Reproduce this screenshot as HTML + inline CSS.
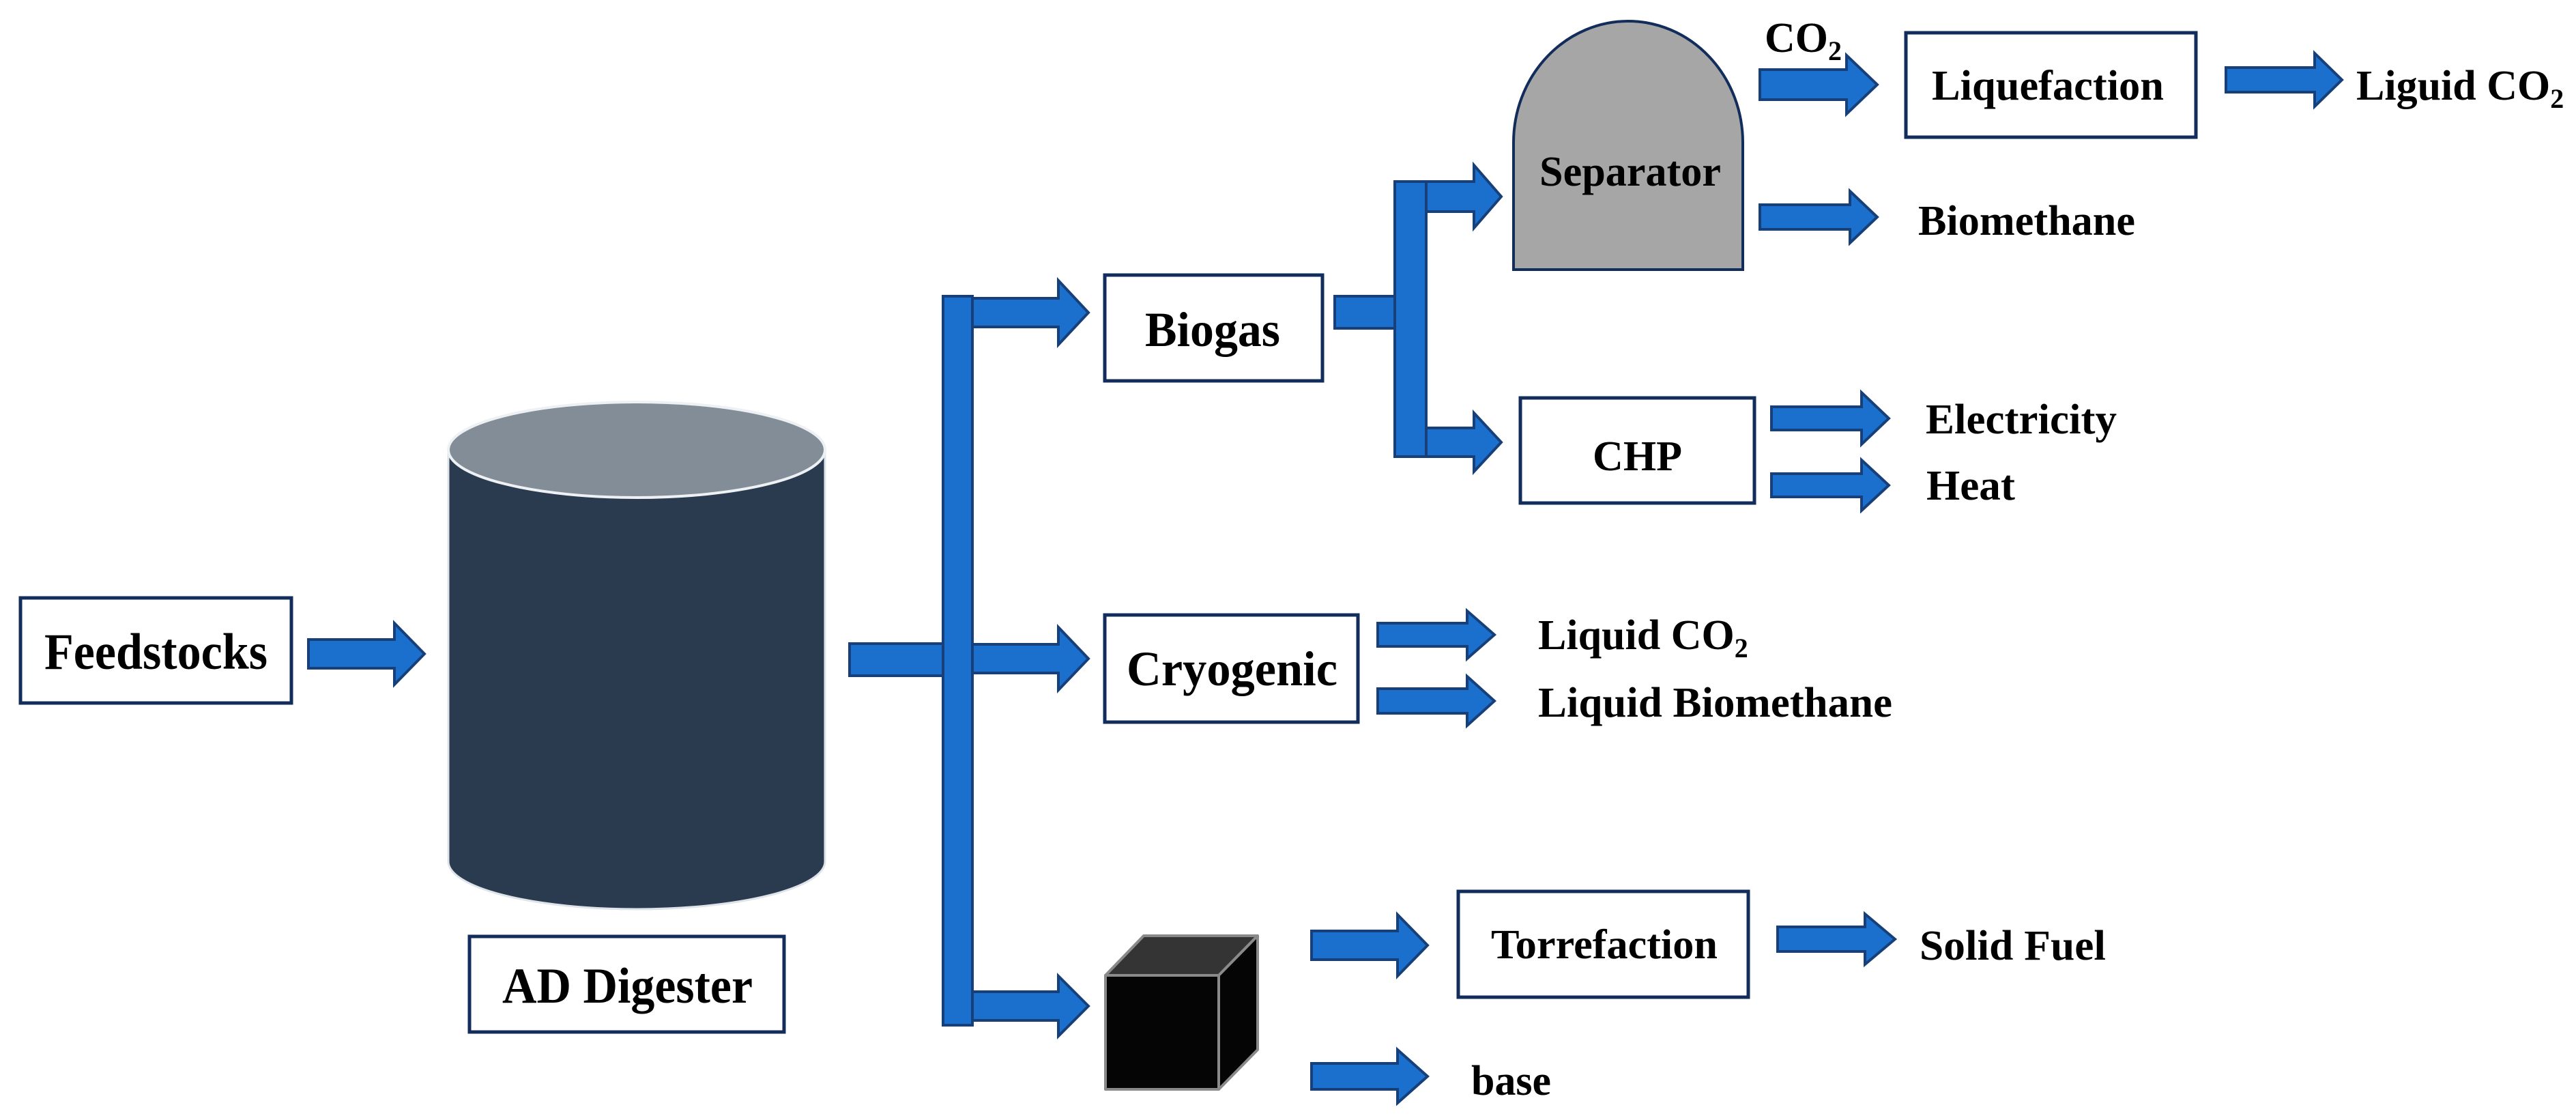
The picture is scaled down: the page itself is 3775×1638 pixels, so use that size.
<!DOCTYPE html>
<html><head><meta charset="utf-8"><style>
html,body{margin:0;padding:0;background:#fff;}
svg{display:block;}
text{font-family:"Liberation Serif",serif;font-weight:bold;fill:#000;}
</style></head><body>
<svg width="3775" height="1638" viewBox="0 0 3775 1638" xmlns="http://www.w3.org/2000/svg">
<rect width="3775" height="1638" fill="#fff"/>
<g fill="#1a70cc" stroke="#17407a" stroke-width="4" stroke-linejoin="miter">
<rect x="1245" y="943" width="137" height="47"/>
<rect x="1382" y="434" width="43" height="1068"/>
<rect x="1956" y="434" width="88" height="47"/>
<rect x="2044" y="266" width="46" height="403"/>
<polygon points="452,937 578,937 578,913 622,958 578,1003 578,979 452,979"/>
<polygon points="1425,437 1551,437 1551,411 1595,458 1551,505 1551,479 1425,479"/>
<polygon points="1425,944 1551,944 1551,919 1595,965 1551,1011 1551,986 1425,986"/>
<polygon points="1425,1453 1551,1453 1551,1430 1595,1474 1551,1518 1551,1495 1425,1495"/>
<polygon points="2090,266 2160,266 2160,242 2200,288 2160,334 2160,310 2090,310"/>
<polygon points="2090,627 2160,627 2160,605 2200,648 2160,691 2160,669 2090,669"/>
<polygon points="2579,102 2706,102 2706,81 2751,124 2706,167 2706,146 2579,146"/>
<polygon points="3262,99 3392,99 3392,78 3432,117 3392,156 3392,135 3262,135"/>
<polygon points="2579,300 2711,300 2711,280 2751,318 2711,356 2711,336 2579,336"/>
<polygon points="2596,596 2728,596 2728,575 2768,613 2728,651 2728,630 2596,630"/>
<polygon points="2596,694 2728,694 2728,674 2768,711 2728,748 2728,728 2596,728"/>
<polygon points="2019,913 2150,913 2150,895 2190,930 2150,965 2150,947 2019,947"/>
<polygon points="2019,1009 2150,1009 2150,991 2190,1027 2150,1063 2150,1045 2019,1045"/>
<polygon points="1922,1364 2048,1364 2048,1340 2092,1385 2048,1430 2048,1406 1922,1406"/>
<polygon points="2605,1358 2733,1358 2733,1339 2777,1376 2733,1413 2733,1394 2605,1394"/>
<polygon points="1922,1558 2048,1558 2048,1538 2092,1577 2048,1616 2048,1596 1922,1596"/>
</g>
<g fill="#fff" stroke="#122d5c" stroke-width="5">
<rect x="30" y="876" width="397" height="154"/>
<rect x="688" y="1372" width="461" height="140"/>
<rect x="1619" y="403" width="319" height="155"/>
<rect x="1619" y="901" width="371" height="157"/>
<rect x="2228" y="583" width="343" height="154"/>
<rect x="2793" y="48" width="425" height="153"/>
<rect x="2137" y="1306" width="425" height="155"/>
</g>
<path d="M657,659 L657,1262 A276,70 0 0 0 1209,1262 L1209,659 Z" fill="#2a3a4f" stroke="#dfe4ea" stroke-width="3"/>
<ellipse cx="933" cy="659" rx="276" ry="70" fill="#838d98" stroke="#eef1f4" stroke-width="4"/>
<path d="M2218,395 L2218,209 A168,178 0 0 1 2554,209 L2554,395 Z" fill="#a6a6a6" stroke="#122d5c" stroke-width="4"/>
<g stroke="#8a8a8a" stroke-width="4" stroke-linejoin="round">
<polygon points="1620,1429 1676,1371 1843,1371 1786,1429" fill="#343434"/>
<polygon points="1786,1429 1843,1371 1843,1538 1786,1596" fill="#050505"/>
<rect x="1620" y="1429" width="166" height="167" fill="#050505"/>
</g>
<text x="65" y="980" font-size="75" textLength="327" lengthAdjust="spacingAndGlyphs">Feedstocks</text>
<text x="736" y="1469" font-size="74" textLength="367" lengthAdjust="spacingAndGlyphs">AD Digester</text>
<text x="1678" y="507" font-size="72" textLength="198" lengthAdjust="spacingAndGlyphs">Biogas</text>
<text x="1651" y="1004" font-size="72" textLength="309" lengthAdjust="spacingAndGlyphs">Cryogenic</text>
<text x="2334" y="689" font-size="62" textLength="131" lengthAdjust="spacingAndGlyphs">CHP</text>
<text x="2256" y="272" font-size="62" textLength="266" lengthAdjust="spacingAndGlyphs">Separator</text>
<text x="2831" y="146" font-size="62" textLength="340" lengthAdjust="spacingAndGlyphs">Liquefaction</text>
<text x="2185" y="1404" font-size="61" textLength="332" lengthAdjust="spacingAndGlyphs">Torrefaction</text>
<text x="2586" y="76" font-size="62">CO<tspan font-size="40" dy="12">2</tspan></text>
<text x="3453" y="146" font-size="62">Liguid CO<tspan font-size="40" dy="12">2</tspan></text>
<text x="2811" y="344" font-size="62" textLength="318" lengthAdjust="spacingAndGlyphs">Biomethane</text>
<text x="2822" y="635" font-size="62" textLength="280" lengthAdjust="spacingAndGlyphs">Electricity</text>
<text x="2823" y="732" font-size="62" textLength="130" lengthAdjust="spacingAndGlyphs">Heat</text>
<text x="2254" y="951" font-size="62">Liquid CO<tspan font-size="40" dy="12">2</tspan></text>
<text x="2254" y="1050" font-size="62" textLength="519" lengthAdjust="spacingAndGlyphs">Liquid Biomethane</text>
<text x="2813" y="1406" font-size="62" textLength="273" lengthAdjust="spacingAndGlyphs">Solid Fuel</text>
<text x="2156" y="1604" font-size="62" textLength="117" lengthAdjust="spacingAndGlyphs">base</text>
</svg>
</body></html>
